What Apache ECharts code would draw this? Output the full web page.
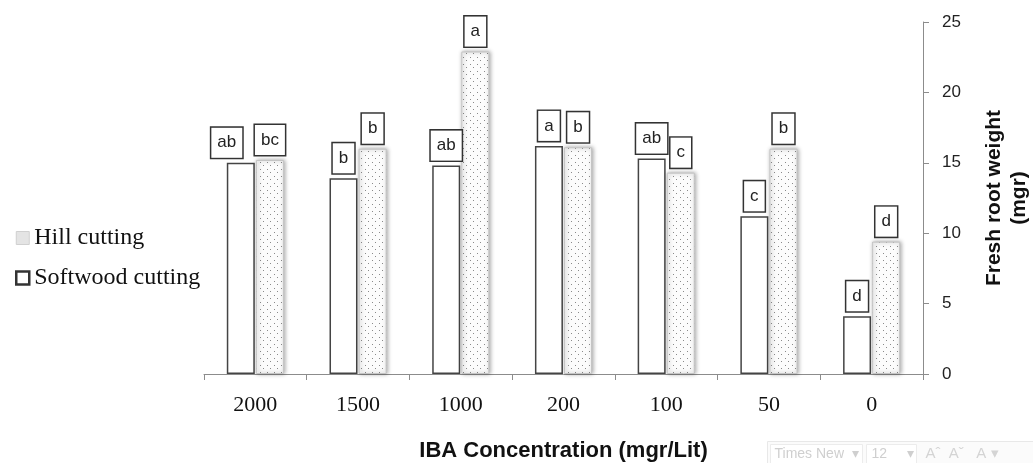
<!DOCTYPE html>
<html>
<head>
<meta charset="utf-8">
<script src="https://cdn.jsdelivr.net/npm/echarts@6/dist/echarts.min.js"></script>
<style>
  html, body { margin: 0; padding: 0; background: #fff; }
  #chart { width: 1033px; height: 463px; }
</style>
</head>
<body>
<div id="chart"></div>
<script>
const categories = ['2000', '1500', '1000', '200', '100', '50', '0'];
const softwoodValues = [15.0, 13.9, 14.8, 16.2, 15.3, 11.2, 4.1];
const hillValues = [15.2, 16.0, 22.9, 16.1, 14.3, 16.0, 9.4];
const softwoodLetters = ['ab', 'b', 'ab', 'a', 'ab', 'c', 'd'];
const hillLetters = ['bc', 'b', 'a', 'b', 'c', 'b', 'd'];
const yTicks = [0, 5, 10, 15, 20, 25];

function dotPattern() {
  const c = document.createElement('canvas');
  c.width = 7;
  c.height = 7;
  const g = c.getContext('2d');
  g.fillStyle = '#fcfcfc';
  g.fillRect(0, 0, 7, 7);
  g.fillStyle = '#8a8a8a';
  g.fillRect(1, 1, 1, 1);
  g.fillRect(4, 4, 1, 1);
  return c;
}

const LETTER_LABEL = {
  show: true,
  position: 'top',
  distance: 5,
  color: '#222',
  fontFamily: 'Liberation Sans',
  fontSize: 17,
  lineHeight: 18,
  backgroundColor: '#fff',
  borderColor: '#333',
  borderWidth: 1.5,
  padding: [6, 6],
};

const chart = echarts.init(document.getElementById('chart'), null, { renderer: 'canvas' });
const hillFill = { image: dotPattern(), repeat: 'repeat' };

chart.setOption({
  animation: false,
  backgroundColor: '#fff',
  grid: { left: 204, right: 110, top: 22, bottom: 89, containLabel: false, outerBoundsMode: 'none' },
  legend: {
    orient: 'vertical',
    left: 10,
    top: 221,
    itemGap: 16,
    itemWidth: 13,
    itemHeight: 13,
    textStyle: { fontFamily: 'Liberation Serif', fontSize: 24, color: '#111' },
    data: [
      { name: 'Hill cutting', icon: 'rect', itemStyle: { color: '#e4e4e4', borderColor: '#d0d0d0', borderWidth: 1 } },
      { name: 'Softwood cutting', icon: 'rect', itemStyle: { color: '#fff', borderColor: '#333', borderWidth: 2.5 } },
    ],
  },
  xAxis: {
    type: 'category',
    data: categories,
    name: 'IBA Concentration (mgr/Lit)',
    nameLocation: 'middle',
    nameGap: 66,
    nameTextStyle: { fontFamily: 'Liberation Sans', fontWeight: 'bold', fontSize: 22, color: '#111' },
    axisLine: { lineStyle: { color: '#8c8c8c', width: 1 } },
    axisTick: { show: true, length: 6, lineStyle: { color: '#8c8c8c' } },
    axisLabel: { margin: 20, fontFamily: 'Liberation Serif', fontSize: 22, color: '#111' },
  },
  yAxis: {
    type: 'value',
    position: 'right',
    min: yTicks[0],
    max: yTicks[yTicks.length - 1],
    interval: 5,
    name: 'Fresh root weight\n(mgr)',
    nameLocation: 'middle',
    nameGap: 59,
    nameRotate: 90,
    nameTextStyle: { fontFamily: 'Liberation Sans', fontWeight: 'bold', fontSize: 21, lineHeight: 25, color: '#111', align: 'center' },
    axisLine: { show: true, lineStyle: { color: '#8c8c8c', width: 1 } },
    axisTick: { show: true, length: 6, lineStyle: { color: '#8c8c8c' } },
    axisLabel: { margin: 19, fontFamily: 'Liberation Sans', fontSize: 17, color: '#222' },
    splitLine: { show: false },
  },
  series: [
    {
      name: 'Softwood cutting',
      type: 'bar',
      barWidth: 28,
      barGap: '4%',
      data: softwoodValues.map((v, i) => ({
        value: v,
        label: { formatter: softwoodLetters[i], offset: i === 0 ? [-14, 0] : [0, 0] },
      })),
      itemStyle: { color: '#fff', borderColor: '#444', borderWidth: 1.5 },
      label: LETTER_LABEL,
    },
    {
      name: 'Hill cutting',
      type: 'bar',
      barWidth: 28,
      data: hillValues.map((v, i) => ({ value: v, label: { formatter: hillLetters[i] } })),
      itemStyle: {
        color: hillFill,
        borderColor: '#c4c4c4',
        borderWidth: 1,
        shadowBlur: 4,
        shadowColor: 'rgba(0,0,0,0.35)',
        shadowOffsetX: 1,
      },
      label: LETTER_LABEL,
    },
  ],
  graphic: [
    {
      type: 'group',
      left: 767,
      top: 441,
      silent: true,
      children: [
        { type: 'rect', shape: { x: 0, y: 0, width: 270, height: 26 }, style: { fill: '#fbfbfb', stroke: '#e8e8e8' } },
        { type: 'rect', shape: { x: 3, y: 3, width: 92, height: 20 }, style: { fill: '#fff', stroke: '#ececec' } },
        { type: 'text', x: 7, y: 6, style: { text: 'Times New  ▾', fontFamily: 'Liberation Sans', fontSize: 14, fill: '#cfcfcf' } },
        { type: 'rect', shape: { x: 99, y: 3, width: 50, height: 20 }, style: { fill: '#fff', stroke: '#ececec' } },
        { type: 'text', x: 104, y: 6, style: { text: '12     ▾', fontFamily: 'Liberation Sans', fontSize: 14, fill: '#cfcfcf' } },
        { type: 'text', x: 158, y: 5, style: { text: 'Aˆ  Aˇ   A ▾', fontFamily: 'Liberation Sans', fontSize: 15, fill: '#d4d4d4' } },
      ],
    },
  ],
});
</script>
</body>
</html>
